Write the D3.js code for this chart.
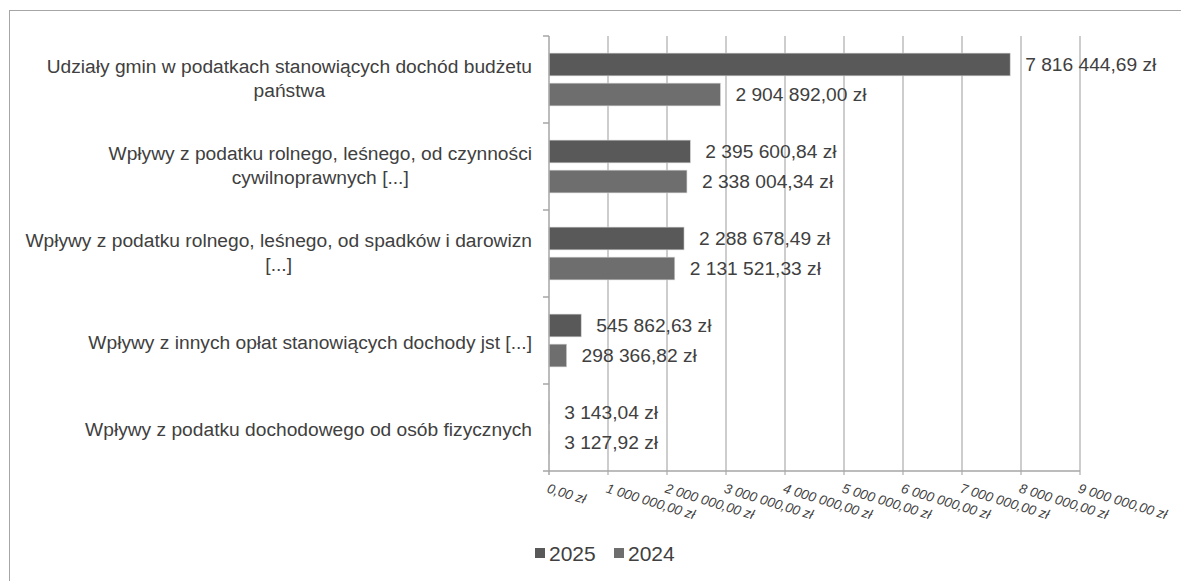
<!DOCTYPE html>
<html>
<head>
<meta charset="utf-8">
<script src="https://cdn.jsdelivr.net/npm/d3@7"></script>
<style>
  body { margin: 0; background: #fff; }
  text { font-family: "Liberation Sans", Arial, sans-serif; fill: #404040; }
</style>
</head>
<body>
<svg id="chart" width="1181" height="581"></svg>
<script>
// category labels (already split into lines like the original)
const categories = [
  ["Udziały gmin w podatkach stanowiących dochód budżetu", "państwa"],
  ["Wpływy z podatku rolnego, leśnego, od czynności", "cywilnoprawnych [...]"],
  ["Wpływy z podatku rolnego, leśnego, od spadków i darowizn", "[...]"],
  ["Wpływy z innych opłat stanowiących dochody jst [...]"],
  ["Wpływy z podatku dochodowego od osób fizycznych"]
]
const seriesNames = ["2025", "2024"]
const values2025 = [7816444.69, 2395600.84, 2288678.49, 545862.63, 3143.04]
const values2024 = [2904892.00, 2338004.34, 2131521.33, 298366.82, 3127.92]
const xTicks = [0, 1000000, 2000000, 3000000, 4000000, 5000000, 6000000, 7000000, 8000000, 9000000]

const colors = { "2025": "#595959", "2024": "#6e6e6e" }

const MARGIN = { LEFT: 549, RIGHT: 101, TOP: 36, BOTTOM: 110 }
const WIDTH = 1181 - MARGIN.LEFT - MARGIN.RIGHT
const HEIGHT = 581 - MARGIN.TOP - MARGIN.BOTTOM

const pl = d3.formatLocale({ decimal: ",", thousands: " ", grouping: [3], currency: ["", " zł"] })
const fmt = v => pl.format(",.2f")(v) + " zł"

const svg = d3.select("#chart")

// outer frame
svg.append("rect")
  .attr("x", 9.5).attr("y", 10.5)
  .attr("width", 1300).attr("height", 700)
  .attr("fill", "none")
  .attr("stroke", "#a6a6a6")

const g = svg.append("g")
  .attr("transform", `translate(${MARGIN.LEFT}, ${MARGIN.TOP})`)

// scales
const x = d3.scaleLinear().domain([0, 9000000]).range([0, WIDTH])
const y = d3.scaleBand().domain(d3.range(categories.length)).range([0, HEIGHT])
const ySub = d3.scaleBand().domain(seriesNames).range([0, y.bandwidth()])
  .paddingInner(0.243).paddingOuter(0.57)

// gridlines
g.selectAll(".grid")
  .data(xTicks.slice(1))
  .join("line")
  .attr("class", "grid")
  .attr("x1", d => x(d)).attr("x2", d => x(d))
  .attr("y1", 0).attr("y2", HEIGHT + 4)
  .attr("stroke", "#bdbdbd")
  .attr("stroke-width", 1.5)

// bars
const rows = categories.map((c, i) => ({ i, "2025": values2025[i], "2024": values2024[i] }))
const groups = g.selectAll(".cat")
  .data(rows)
  .join("g")
  .attr("class", "cat")
  .attr("transform", d => `translate(0, ${y(d.i)})`)

groups.selectAll("rect")
  .data(d => seriesNames.map(s => ({ s, v: d[s] })))
  .join("rect")
  .attr("x", 0)
  .attr("y", d => ySub(d.s))
  .attr("width", d => x(d.v))
  .attr("height", ySub.bandwidth())
  .attr("fill", d => colors[d.s])
  .attr("stroke", "#d0d0d0")
  .attr("stroke-width", 0.6)

groups.selectAll(".val")
  .data(d => seriesNames.map(s => ({ s, v: d[s] })))
  .join("text")
  .attr("class", "val")
  .attr("x", d => x(d.v) + 15)
  .attr("y", d => ySub(d.s) + ySub.bandwidth() / 2)
  .attr("dy", "0.36em")
  .attr("font-size", "19.2px")
  .text(d => fmt(d.v))

// y axis line + ticks
g.append("line")
  .attr("x1", 0).attr("x2", 0).attr("y1", 0).attr("y2", HEIGHT)
  .attr("stroke", "#a6a6a6").attr("stroke-width", 1.5)
g.selectAll(".ytick")
  .data(d3.range(categories.length + 1))
  .join("line")
  .attr("class", "ytick")
  .attr("x1", -6).attr("x2", 0)
  .attr("y1", d => d * y.step()).attr("y2", d => d * y.step())
  .attr("stroke", "#a6a6a6").attr("stroke-width", 1.5)

// x axis line
g.append("line")
  .attr("x1", 0).attr("x2", WIDTH).attr("y1", HEIGHT).attr("y2", HEIGHT)
  .attr("stroke", "#a6a6a6").attr("stroke-width", 1.5)
g.append("line")
  .attr("x1", 0).attr("x2", 0).attr("y1", HEIGHT).attr("y2", HEIGHT + 4)
  .attr("stroke", "#a6a6a6").attr("stroke-width", 1.5)

// rotated x tick labels
g.selectAll(".xlab")
  .data(xTicks)
  .join("text")
  .attr("class", "xlab")
  .attr("transform", d => `translate(${x(d)}, ${HEIGHT + 12}) rotate(17)`)
  .attr("dy", "0.72em")
  .attr("font-size", "13.5px")
  .attr("font-style", "italic")
  .text(d => fmt(d))

// category labels: block right-aligned, lines centred within the block
categories.forEach((lines, i) => {
  const t = svg.append("text")
    .attr("font-size", "19.2px")
    .attr("text-anchor", "middle")
  const lh = 23.5
  const cy = MARGIN.TOP + y(i) + y.bandwidth() / 2 + (lines.length > 1 ? -1.5 : 1.5)
  lines.forEach((ln, k) => {
    t.append("tspan")
      .attr("y", cy - (lines.length - 1) * lh / 2 + k * lh)
      .attr("dy", "0.36em")
      .text(ln)
  })
  const w = d3.max(t.selectAll("tspan").nodes(), n => n.getComputedTextLength())
  t.selectAll("tspan").attr("x", 532 - w / 2)
})

// legend
const legend = svg.append("g").attr("transform", "translate(535, 553)")
seriesNames.forEach((s, i) => {
  const lg = legend.append("g").attr("transform", `translate(${i * 79}, 0)`)
  lg.append("rect").attr("x", 0).attr("y", -5).attr("width", 10).attr("height", 10).attr("fill", colors[s])
  lg.append("text").attr("x", 14).attr("dy", "0.36em").attr("font-size", "21px").text(s)
})
</script>
</body>
</html>
